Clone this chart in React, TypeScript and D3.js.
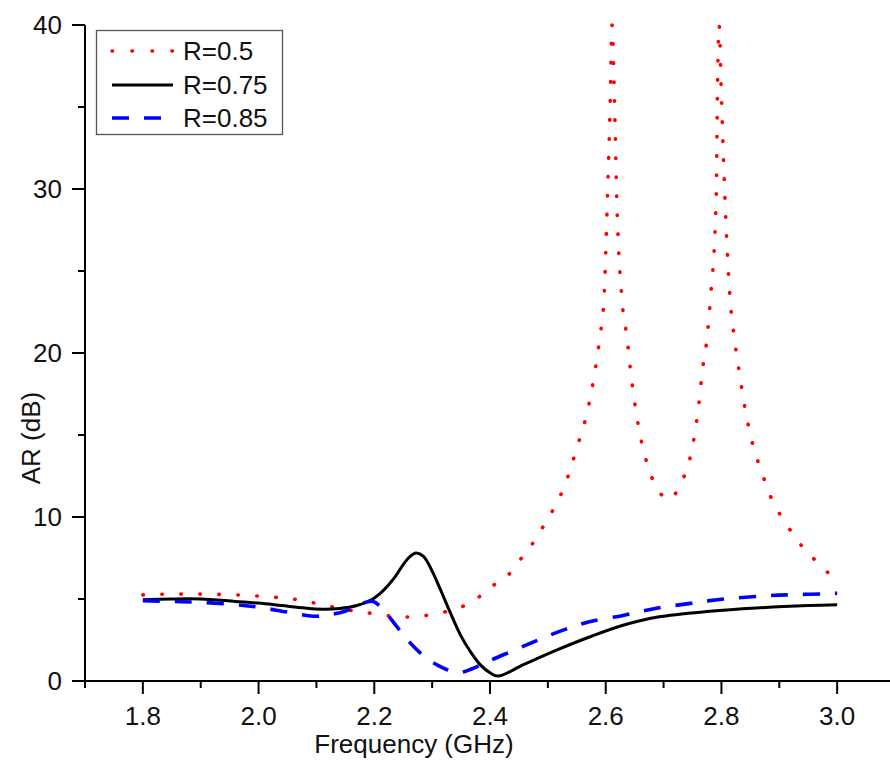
import React, { useEffect, useRef } from "react";
import * as d3 from "d3";

const freqR05 = [1.8, 1.85, 1.9, 1.96, 2.03, 2.06, 2.09, 2.13, 2.16, 2.19, 2.22, 2.25, 2.29, 2.32, 2.35, 2.38, 2.4, 2.43, 2.45, 2.47, 2.49, 2.51, 2.53, 2.55, 2.57, 2.58, 2.59, 2.597, 2.603, 2.608, 2.611, 2.615, 2.619, 2.628, 2.637, 2.644, 2.653, 2.665, 2.674, 2.686, 2.698, 2.71, 2.72, 2.731, 2.75, 2.76, 2.767, 2.776, 2.781, 2.791, 2.793, 2.796, 2.8, 2.806, 2.815, 2.822, 2.831, 2.841, 2.855, 2.866, 2.876, 2.888, 2.904, 2.921, 2.942, 2.964, 2.988, 3.0];
const arR05 = [5.25, 5.3, 5.3, 5.25, 5.1, 5.0, 4.8, 4.5, 4.3, 4.15, 4.0, 3.9, 4.0, 4.2, 4.5, 5.1, 5.7, 6.4, 7.3, 8.2, 9.3, 10.5, 12.0, 14.2, 16.7, 18.6, 21.0, 23.3, 29.5, 35.6, 40, 35.6, 29.5, 23.3, 20.9, 18.6, 16.3, 14.1, 13.0, 11.9, 11.3, 11.05, 11.4, 12.1, 14.3, 16.6, 18.9, 21.2, 23.3, 29.5, 35.6, 40, 35.6, 29.5, 23.3, 21.0, 18.8, 16.6, 14.3, 13.1, 12.1, 11.0, 10.0, 9.1, 8.1, 7.3, 6.5, 6.2];

const freqR075 = [1.8, 1.85, 1.9, 1.96, 2.0, 2.04, 2.08, 2.11, 2.14, 2.17, 2.195, 2.215, 2.235, 2.25, 2.262, 2.272, 2.285, 2.3, 2.314, 2.331, 2.349, 2.366, 2.383, 2.4, 2.414, 2.458, 2.516, 2.573, 2.63, 2.69, 2.78, 2.86, 2.95, 3.0];
const arR075 = [4.95, 5.0, 5.0, 4.85, 4.75, 4.6, 4.45, 4.38, 4.42, 4.6, 4.95, 5.5, 6.3, 7.1, 7.6, 7.8, 7.6, 6.7, 5.6, 4.2, 2.8, 1.8, 1.0, 0.5, 0.3, 1.0, 1.9, 2.7, 3.4, 3.9, 4.25, 4.45, 4.6, 4.65];

const freqR085 = [1.8, 1.85, 1.9, 1.96, 2.0, 2.05, 2.095, 2.125, 2.153, 2.176, 2.198, 2.21, 2.225, 2.245, 2.268, 2.29, 2.31, 2.325, 2.345, 2.366, 2.4, 2.44, 2.47, 2.5, 2.53, 2.57, 2.63, 2.69, 2.75, 2.78, 2.82, 2.88, 2.93, 2.99, 3.0];
const arR085 = [4.9, 4.85, 4.8, 4.65, 4.5, 4.2, 3.95, 4.05, 4.3, 4.7, 4.85, 4.55, 3.95, 3.05, 2.1, 1.4, 0.95, 0.7, 0.5, 0.7, 1.25, 1.85, 2.3, 2.75, 3.15, 3.6, 4.0, 4.45, 4.75, 4.9, 5.05, 5.2, 5.27, 5.33, 5.35];

const xMajorTicks = [1.8, 2.0, 2.2, 2.4, 2.6, 2.8, 3.0];
const xMinorTicks = [1.7, 1.9, 2.1, 2.3, 2.5, 2.7, 2.9, 3.1];
const yMajorTicks = [0, 10, 20, 30, 40];
const yMinorTicks = [5, 15, 25, 35];

const seriesNames = ["R=0.5", "R=0.75", "R=0.85"];

const FONT = "'Liberation Sans', Arial, sans-serif";

export default function App() {
  const ref = useRef<SVGSVGElement | null>(null);

  useEffect(() => {
    const svg = d3.select(ref.current);
    svg.selectAll("*").remove();

    const x = d3.scaleLinear().domain([1.7, 3.1]).range([85, 895]);
    const y = d3.scaleLinear().domain([0, 40]).range([681, 25]);

    svg.append("defs").append("clipPath").attr("id", "plotclip")
      .append("rect").attr("x", 85).attr("y", y(40) - 2).attr("width", 810).attr("height", y(0) - y(40) + 2);

    const series = [
      { f: freqR05, v: arR05, color: "#ff0000", width: 3.6, dash: "0.5 18.5", cap: "round", curve: d3.curveMonotoneX },
      { f: freqR075, v: arR075, color: "#000000", width: 3, dash: null, cap: "butt", curve: d3.curveCatmullRom.alpha(0.5) },
      { f: freqR085, v: arR085, color: "#0000ff", width: 3.6, dash: "17 15", cap: "butt", curve: d3.curveCatmullRom.alpha(0.5) },
    ];

    const g = svg.append("g").attr("clip-path", "url(#plotclip)");
    series.forEach((s) => {
      const line = d3.line<[number, number]>()
        .x((d) => x(d[0]))
        .y((d) => y(d[1]))
        .curve(s.curve as any);
      const pts: [number, number][] = s.f.map((f, i) => [f, s.v[i]]);
      const p = g.append("path")
        .attr("d", line(pts) as string)
        .attr("fill", "none")
        .attr("stroke", s.color)
        .attr("stroke-width", s.width)
        .attr("stroke-linecap", s.cap)
        .attr("stroke-linejoin", "round");
      if (s.dash) p.attr("stroke-dasharray", s.dash);
    });

    // Axes
    const ax = svg.append("g");
    ax.append("line").attr("x1", x(1.7)).attr("x2", 895).attr("y1", y(0)).attr("y2", y(0))
      .attr("stroke", "#000").attr("stroke-width", 2);
    ax.append("line").attr("x1", x(1.7)).attr("x2", x(1.7)).attr("y1", y(40)).attr("y2", y(0))
      .attr("stroke", "#000").attr("stroke-width", 2);

    xMajorTicks.forEach((t) => {
      ax.append("line").attr("x1", x(t)).attr("x2", x(t)).attr("y1", y(0)).attr("y2", y(0) + 13)
        .attr("stroke", "#000").attr("stroke-width", 2);
      ax.append("text").attr("x", x(t)).attr("y", 725).attr("text-anchor", "middle")
        .attr("font-family", FONT).attr("font-size", 26).attr("fill", "#111").text(d3.format(".1f")(t));
    });
    xMinorTicks.forEach((t) => {
      ax.append("line").attr("x1", x(t)).attr("x2", x(t)).attr("y1", y(0)).attr("y2", y(0) + 7)
        .attr("stroke", "#000").attr("stroke-width", 2);
    });
    yMajorTicks.forEach((t) => {
      ax.append("line").attr("x1", x(1.7) - 13).attr("x2", x(1.7)).attr("y1", y(t)).attr("y2", y(t))
        .attr("stroke", "#000").attr("stroke-width", 2);
      ax.append("text").attr("x", 62).attr("y", y(t)).attr("dy", "0.36em").attr("text-anchor", "end")
        .attr("font-family", FONT).attr("font-size", 26).attr("fill", "#111").text(String(t));
    });
    yMinorTicks.forEach((t) => {
      ax.append("line").attr("x1", x(1.7) - 7).attr("x2", x(1.7)).attr("y1", y(t)).attr("y2", y(t))
        .attr("stroke", "#000").attr("stroke-width", 2);
    });

    ax.append("text").attr("x", 414).attr("y", 753).attr("text-anchor", "middle")
      .attr("font-family", FONT).attr("font-size", 26).attr("fill", "#111").text("Frequency (GHz)");
    ax.append("text").attr("transform", "translate(40,438) rotate(-90)").attr("text-anchor", "middle")
      .attr("font-family", FONT).attr("font-size", 26).attr("fill", "#111").text("AR (dB)");

    // Legend
    const lg = svg.append("g");
    lg.append("rect").attr("x", 96.5).attr("y", 30.5).attr("width", 186).attr("height", 104)
      .attr("fill", "#fff").attr("stroke", "#555").attr("stroke-width", 1.3);
    const rowsY = [51, 85, 118];
    series.forEach((s, i) => {
      const l = lg.append("line").attr("x1", 112).attr("x2", 173).attr("y1", rowsY[i]).attr("y2", rowsY[i])
        .attr("stroke", s.color).attr("stroke-width", s.width).attr("stroke-linecap", s.cap);
      if (s.dash) l.attr("stroke-dasharray", i === 0 ? "0.5 19.5" : s.dash);
      lg.append("text").attr("x", 183).attr("y", rowsY[i]).attr("dy", "0.36em")
        .attr("font-family", FONT).attr("font-size", 26).attr("fill", "#111").text(seriesNames[i]);
    });
  }, []);

  return (
    <svg ref={ref} width={890} height={765}
      style={{ position: "absolute", left: 0, top: 0, background: "#fff" }} />
  );
}
